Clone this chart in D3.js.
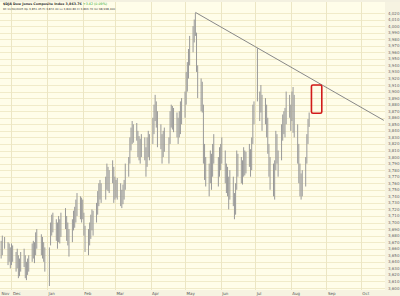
<!DOCTYPE html>
<html>
<head>
<meta charset="utf-8">
<script src="https://cdn.jsdelivr.net/npm/d3@7"></script>
<style>
  body { margin: 0; background: #fffde9; }
  svg { display: block; }
</style>
</head>
<body>
<div id="container"></div>
<script>
let w = 400;
let h = 296;

// daily highs / lows, 22 Nov 2005 .. 17 Aug 2006 (trading days)
let highs = [
  // nov
  3672, 3680, 3678, 3670, 3668, 3662,
  // dec
  3668, 3665, 3655, 3660, 3650, 3645, 3655, 3660, 3650, 3640, 3645, 3650, 3668, 3672, 3670, 3685, 3690, 3682, 3678, 3670, 3662,
  // jan
  3662, 3700, 3712, 3715, 3705, 3700, 3710, 3705, 3715, 3722, 3710, 3700, 3690, 3705, 3718, 3724, 3735, 3745, 3740, 3738,
  // feb
  3735, 3715, 3695, 3690, 3700, 3712, 3720, 3718, 3730, 3748, 3760, 3765, 3760, 3770, 3790, 3785, 3780, 3795, 3785,
  // mar
  3770, 3765, 3768, 3760, 3750, 3758, 3765, 3790, 3800, 3830, 3845, 3855, 3850, 3852, 3840, 3832, 3828, 3835, 3830, 3815, 3830, 3840, 3835,
  // apr
  3860, 3880, 3895, 3885, 3870, 3850, 3835, 3840, 3845, 3830, 3870, 3880, 3878, 3875, 3868, 3860, 3870, 3885, 3890,
  // may
  3900, 3930, 3945, 3965, 3985, 4000, 4010, 4020, 3990, 3940, 3920, 3915, 3880, 3820, 3800, 3790, 3810, 3805, 3820, 3835, 3800, 3815,
  // jun
  3820, 3830, 3810, 3790, 3785, 3770, 3780, 3770, 3745, 3760, 3810, 3805, 3800, 3795, 3815, 3810, 3808, 3820, 3812, 3830, 3880, 3885,
  // jul
  3966, 3900, 3910, 3895, 3890, 3880, 3860, 3820, 3800, 3790, 3795, 3840, 3835, 3810, 3850, 3865, 3870, 3875, 3900, 3895,
  // aug
  3880, 3900, 3907, 3895, 3850, 3820, 3790, 3775, 3780, 3800, 3835, 3858, 3868
];

let lows = [
  3645, 3650, 3660, 3635, 3640, 3630,
  3635, 3640, 3625, 3630, 3615, 3618, 3625, 3632, 3615, 3612, 3620, 3625, 3640, 3645, 3638, 3650, 3660, 3650, 3645, 3640, 3625,
  3603, 3665, 3680, 3685, 3672, 3660, 3670, 3668, 3678, 3690, 3672, 3665, 3648, 3670, 3688, 3692, 3700, 3710, 3705, 3700,
  3705, 3680, 3655, 3650, 3665, 3675, 3688, 3680, 3700, 3712, 3725, 3735, 3730, 3735, 3750, 3748, 3745, 3760, 3730,
  3735, 3738, 3735, 3725, 3722, 3728, 3735, 3750, 3770, 3790, 3810, 3820, 3822, 3825, 3800, 3795, 3790, 3800, 3795, 3770, 3785, 3800, 3795,
  3820, 3835, 3855, 3845, 3815, 3812, 3790, 3800, 3808, 3790, 3820, 3845, 3842, 3838, 3830, 3820, 3830, 3835, 3850,
  3860, 3880, 3900, 3920, 3940, 3960, 3975, 3985, 3930, 3890, 3870, 3868, 3790, 3765, 3755, 3740, 3760, 3750, 3770, 3790, 3755, 3770,
  3780, 3790, 3760, 3745, 3740, 3720, 3735, 3725, 3705, 3712, 3750, 3770, 3760, 3758, 3770, 3772, 3775, 3785, 3770, 3780, 3820, 3850,
  3885, 3855, 3868, 3840, 3850, 3830, 3805, 3770, 3750, 3740, 3735, 3780, 3790, 3770, 3795, 3825, 3835, 3830, 3850, 3860,
  3840, 3855, 3837, 3830, 3790, 3760, 3740, 3735, 3740, 3755, 3790, 3820, 3846
];

let holidays = ["2005-11-24", "2005-12-26", "2006-01-02", "2006-01-16", "2006-02-20", "2006-04-14", "2006-05-29", "2006-07-04"];

let yTicks = d3.range(3600, 4021, 10);

// trendline from the may top through the july top, and the target box
let trendDates = ["2006-05-10", "2006-10-21"];
let trendValues = [4021, 3856];
let boxDates = ["2006-08-19", "2006-08-28"];
let boxValues = [3867, 3910];

let parse = d3.timeParse("%Y-%m-%d");
let fmt = d3.timeFormat("%Y-%m-%d");

// trading days
let days = d3.timeDay.range(new Date(2005, 10, 22), new Date(2006, 7, 18))
  .filter(d => d.getDay() != 0 && d.getDay() != 6 && holidays.indexOf(fmt(d)) < 0);

let bars = days.slice(0, highs.length).map((d, i) => ({date: d, hi: highs[i], lo: lows[i]}));

let plotR = 385;
let plotB = 290;

let x = d3.scaleTime()
  .domain([new Date(2005, 10, 21), new Date(2006, 9, 22)])
  .range([0, plotR]);

let y = d3.scaleLinear()
  .domain([3600, 4020])
  .range([288, 13]);

let viz = d3.select("#container")
  .append("svg")
    .attr("width", w)
    .attr("height", h)
    .style("font-family", "'DejaVu Sans', sans-serif")
;

viz.append("rect")
  .attr("width", w)
  .attr("height", h)
  .attr("fill", "#fffde9");

// right axis band and bottom band
viz.append("rect")
  .attr("x", plotR)
  .attr("y", 0)
  .attr("width", w - plotR)
  .attr("height", h)
  .attr("fill", "#f6f3e1");
viz.append("rect")
  .attr("x", 0)
  .attr("y", plotB)
  .attr("width", w)
  .attr("height", h - plotB)
  .attr("fill", "#f6f3e1");
viz.append("rect")
  .attr("x", 0)
  .attr("y", 0)
  .attr("width", w)
  .attr("height", 2)
  .attr("fill", "#f3f0e0");

// horizontal grid
viz.selectAll(".hgrid").data(yTicks).enter()
  .append("line")
    .attr("class", "hgrid")
    .attr("x1", 0)
    .attr("x2", plotR)
    .attr("y1", d => Math.round(y(d)) + 0.5)
    .attr("y2", d => Math.round(y(d)) + 0.5)
    .style("stroke", "#f1ebc9")
    .style("stroke-width", 1)
;

// month grid
let months = d3.timeMonth.range(new Date(2005, 11, 1), new Date(2006, 10, 1));
viz.selectAll(".vgrid").data(months).enter()
  .append("line")
    .attr("class", "vgrid")
    .attr("x1", d => Math.round(x(d)) + 0.5)
    .attr("x2", d => Math.round(x(d)) + 0.5)
    .attr("y1", 2)
    .attr("y2", plotB)
    .style("stroke", "#ece6c4")
    .style("stroke-width", 1)
;

// right axis labels
let yFmt = d3.format(",");
viz.selectAll(".ylab").data(yTicks).enter()
  .append("text")
    .attr("class", "ylab")
    .text(d => yFmt(d))
    .attr("x", 388)
    .attr("y", d => y(d) + 1.5)
    .style("font-size", "4px")
    .style("fill", "#666")
;

// month labels
let monthLabels = [new Date(2005, 10, 1)].concat(months);
viz.selectAll(".xlab").data(monthLabels).enter()
  .append("text")
    .attr("class", "xlab")
    .text(d => d3.timeFormat("%b")(d))
    .attr("x", d => Math.max(x(d), 0) + 1.5)
    .attr("y", 294.5)
    .style("font-size", "4px")
    .style("fill", "#555")
;

// price bars
viz.selectAll(".bar").data(bars).enter()
  .append("line")
    .attr("class", "bar")
    .attr("x1", d => x(d.date))
    .attr("x2", d => x(d.date))
    .attr("y1", d => y(d.hi))
    .attr("y2", d => y(d.lo))
    .style("stroke", "#999")
    .style("stroke-width", 1)
;

// trendline
viz.append("line")
  .attr("x1", x(parse(trendDates[0])))
  .attr("y1", y(trendValues[0]))
  .attr("x2", x(parse(trendDates[1])))
  .attr("y2", y(trendValues[1]))
  .style("stroke", "#888")
  .style("stroke-width", 1)
;

// target box
viz.append("rect")
  .attr("x", x(parse(boxDates[0])))
  .attr("y", y(boxValues[1]))
  .attr("width", x(parse(boxDates[1])) - x(parse(boxDates[0])))
  .attr("height", y(boxValues[0]) - y(boxValues[1]))
  .attr("rx", 1.5)
  .attr("fill", "none")
  .style("stroke", "#d11a1a")
  .style("stroke-width", 1.6)
;

// header
let title = viz.append("text")
  .attr("x", 3)
  .attr("y", 5)
  .style("font-size", "3.3px");
title.append("tspan")
  .text("$DJA Dow Jones Composite Index  3,863.76")
  .style("font-weight", "bold")
  .style("fill", "#333");
title.append("tspan")
  .text("  +3.42  (0.09%)")
  .style("fill", "#2aa52a");

viz.append("text")
  .text("Dt 11/30/2005  Op 3,851.45  Hi 3,872.40  Lo 3,840.86  Cl 3,863.76  Vol 98,938,400")
  .attr("x", 3)
  .attr("y", 10)
  .style("font-size", "2.8px")
  .style("fill", "#444")
;
</script>
</body>
</html>
